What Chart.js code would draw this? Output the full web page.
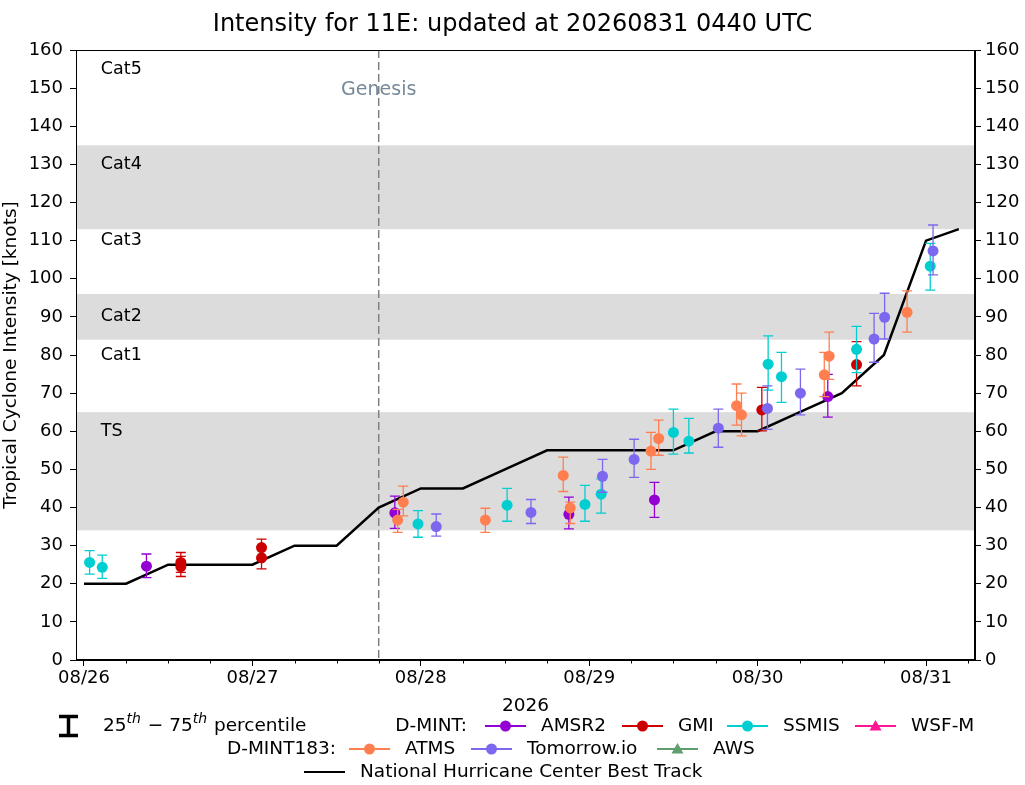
<!DOCTYPE html>
<html>
<head>
<meta charset="utf-8">
<script src="https://cdn.jsdelivr.net/npm/chart.js@4.4.0/dist/chart.umd.min.js"></script>
<style>
  body { margin: 0; background: #fff; }
  canvas { display: block; }
</style>
</head>
<body>
<canvas id="intensity" width="1025" height="785"></canvas>
<script>
// all times are hours after 08/26 00 UTC, intensities in knots
const dayTicks = [0, 24, 48, 72, 96, 120];
const dayLabels = ['08/26', '08/27', '08/28', '08/29', '08/30', '08/31'];
const yearLabel = '2026';
const genesisHour = 42;

// NHC best track
const bestHours = [0, 6, 12, 18, 24, 30, 36, 42, 48, 54, 60, 66, 72, 78, 84, 90, 96, 102, 108, 114, 120, 124.67];
const bestKt    = [20, 20, 25, 25, 25, 30, 30, 40, 45, 45, 50, 55, 55, 55, 55, 60, 60, 65, 70, 80, 110, 113];

// D-MINT
const amsr2Hours = [8.9, 44.3, 69.1, 81.3, 106.0];
const amsr2Kt    = [24.6, 38.6, 38.2, 42.0, 69.1];
const amsr2Lo    = [21.6, 34.5, 34.4, 37.4, 63.7];
const amsr2Hi    = [27.8, 43.0, 42.7, 46.6, 74.9];

const gmiHours = [13.8, 13.8, 25.3, 25.3, 96.6, 110.1];
const gmiKt    = [25.6, 24.5, 29.5, 26.8, 65.6, 77.5];
const gmiLo    = [23.0, 21.9, 26.5, 23.9, 60.1, 71.9];
const gmiHi    = [28.2, 27.2, 31.7, 29.5, 71.5, 83.5];

const ssmisHours = [0.8, 2.6, 47.6, 60.3, 71.4, 73.7, 84.0, 86.2, 97.5, 99.4, 110.1, 120.6];
const ssmisKt    = [25.6, 24.3, 35.7, 40.6, 40.8, 43.5, 59.7, 57.4, 77.6, 74.3, 81.5, 103.3];
const ssmisLo    = [22.5, 21.4, 32.2, 36.4, 36.4, 38.5, 54.0, 54.3, 70.8, 67.6, 75.4, 97.0];
const ssmisHi    = [28.7, 27.5, 39.2, 45.0, 45.8, 47.5, 65.8, 63.4, 85.0, 80.7, 87.5, 109.3];

const wsfmHours = [];
const wsfmKt    = [];

// D-MINT183
const atmsHours = [44.7, 45.5, 57.2, 68.3, 69.3, 80.8, 81.9, 93.0, 93.7, 105.5, 106.2, 117.3];
const atmsKt    = [36.7, 41.4, 36.7, 48.4, 39.9, 54.8, 58.1, 66.7, 64.3, 74.8, 79.7, 91.2];
const atmsLo    = [33.5, 37.8, 33.5, 44.2, 35.8, 50.0, 53.7, 61.6, 58.8, 69.1, 73.6, 86.0];
const atmsHi    = [39.5, 45.6, 39.8, 53.2, 41.4, 59.7, 62.9, 72.4, 70.0, 80.7, 86.0, 96.8];

const tmrwHours = [50.2, 63.7, 73.9, 78.4, 90.4, 97.4, 102.1, 112.6, 114.1, 121.0];
const tmrwKt    = [35.0, 38.7, 48.2, 52.6, 60.8, 66.0, 70.0, 84.2, 89.9, 107.3];
const tmrwLo    = [32.5, 35.8, 44.0, 47.9, 55.8, 60.5, 64.3, 78.1, 84.2, 101.0];
const tmrwHi    = [38.3, 42.1, 52.6, 57.9, 65.8, 71.9, 76.3, 90.9, 96.2, 114.1];

const awsHours = [];
const awsKt    = [];

// saffir-simpson shading and labels
const bandLo = [34, 84, 113];
const bandHi = [65, 96, 135];
const catNames = ['Cat5', 'Cat4', 'Cat3', 'Cat2', 'Cat1', 'TS'];
const catKt    = [155, 130, 110, 90, 80, 60];

const FONT = "'DejaVu Sans', sans-serif";
Chart.defaults.font.family = FONT;
Chart.defaults.color = '#000';

function pts(h, v) {
  return h.map((t, i) => ({x: t, y: v[i]}));
}

function sensor(label, h, v, lo, hi, color, order, style) {
  return {
    type: 'scatter',
    label: label,
    data: pts(h, v),
    lo: lo, hi: hi,
    backgroundColor: color,
    borderColor: color,
    pointRadius: 5.5,
    pointHoverRadius: 5.5,
    pointBorderWidth: 0,
    pointStyle: style || 'circle',
    order: order
  };
}

// error bars are drawn just before each dataset so markers sit on top
const errorBars = {
  id: 'errorBars',
  beforeDatasetDraw(chart, args) {
    const ds = chart.data.datasets[args.index];
    if (!ds.lo) return;
    const {ctx, scales: {x, y}} = chart;
    ctx.save();
    ctx.strokeStyle = ds.borderColor;
    ctx.lineWidth = 1.3;
    ds.data.forEach((p, i) => {
      const px = x.getPixelForValue(p.x);
      const y1 = y.getPixelForValue(ds.lo[i]);
      const y2 = y.getPixelForValue(ds.hi[i]);
      ctx.beginPath();
      ctx.moveTo(px, y1); ctx.lineTo(px, y2);
      ctx.moveTo(px - 5, y1); ctx.lineTo(px + 5, y1);
      ctx.moveTo(px - 5, y2); ctx.lineTo(px + 5, y2);
      ctx.stroke();
    });
    ctx.restore();
  }
};

const background = {
  id: 'background',
  beforeDatasetsDraw(chart) {
    const {ctx, chartArea: a, scales: {x, y}} = chart;
    ctx.save();
    ctx.fillStyle = '#dcdcdc';
    for (let i = 0; i < bandLo.length; i++) {
      const top = y.getPixelForValue(bandHi[i]);
      const bot = y.getPixelForValue(bandLo[i]);
      ctx.fillRect(a.left, top, a.right - a.left, bot - top);
    }
    ctx.fillStyle = '#000';
    ctx.font = '17.5px ' + FONT;
    ctx.textAlign = 'left';
    ctx.textBaseline = 'middle';
    catNames.forEach((c, i) => ctx.fillText(c, x.getPixelForValue(2.4), y.getPixelForValue(catKt[i])));

    // genesis
    const gx = x.getPixelForValue(genesisHour);
    ctx.strokeStyle = '#808080';
    ctx.lineWidth = 1.5;
    ctx.setLineDash([8, 4]);
    ctx.beginPath();
    ctx.moveTo(gx, a.top); ctx.lineTo(gx, a.bottom);
    ctx.stroke();
    ctx.setLineDash([]);
    ctx.fillStyle = '#778899';
    ctx.font = '19px ' + FONT;
    ctx.textAlign = 'center';
    ctx.fillText('Genesis', gx, y.getPixelForValue(149.5));
    ctx.restore();
  }
};

function legendLine(ctx, x1, x2, y, color, marker) {
  ctx.strokeStyle = color;
  ctx.fillStyle = color;
  ctx.lineWidth = 2;
  ctx.beginPath();
  ctx.moveTo(x1, y); ctx.lineTo(x2, y);
  ctx.stroke();
  const mx = (x1 + x2) / 2;
  if (marker === 'circle') {
    ctx.beginPath(); ctx.arc(mx, y, 5.5, 0, Math.PI * 2); ctx.fill();
  } else if (marker === 'triangle') {
    ctx.beginPath();
    ctx.moveTo(mx, y - 6); ctx.lineTo(mx + 6, y + 4.5); ctx.lineTo(mx - 6, y + 4.5);
    ctx.closePath(); ctx.fill();
  }
}

const frameAndLegend = {
  id: 'frameAndLegend',
  afterDraw(chart) {
    const {ctx, chartArea: a, scales: {x}} = chart;
    ctx.save();
    // frame round the plot (bands were painted over the axis lines)
    ctx.strokeStyle = '#000';
    ctx.lineWidth = 1;
    const l = Math.round(a.left) + 0.5, r = Math.round(a.right) - 0.5;
    const t = Math.round(a.top) + 0.5, b = Math.round(a.bottom) - 0.5;
    ctx.strokeRect(l, t, r - l, b - t);
    // minor ticks every 6 h
    ctx.beginPath();
    for (let h = 6; h < 127; h += 6) {
      if (h % 24 === 0) continue;
      const px = Math.round(x.getPixelForValue(h)) + 0.5;
      ctx.moveTo(px, a.bottom); ctx.lineTo(px, a.bottom + 3.5);
    }
    ctx.stroke();

    // legend
    const f = '18.5px ' + FONT;
    const r1 = 726, r2 = 749, r3 = 772;
    ctx.textBaseline = 'middle';

    // percentile icon
    ctx.lineWidth = 3.5;
    ctx.beginPath();
    ctx.moveTo(68.5, 716); ctx.lineTo(68.5, 736);
    ctx.moveTo(59, 716.5); ctx.lineTo(78, 716.5);
    ctx.moveTo(59, 735.5); ctx.lineTo(78, 735.5);
    ctx.stroke();

    ctx.fillStyle = '#000';
    ctx.textAlign = 'left';
    let cx = 103;
    const parts = [['25', false], ['th', true], [' \u2212 75', false], ['th', true], [' percentile', false]];
    parts.forEach(([txt, sup]) => {
      ctx.font = sup ? 'italic 14px ' + FONT : f;
      ctx.fillText(txt, cx, sup ? r1 - 7 : r1);
      cx += ctx.measureText(txt).width + (sup ? 1 : 0);
    });

    ctx.font = f;
    ctx.textAlign = 'right';
    ctx.fillText('D-MINT:', 467, r1);
    ctx.fillText('D-MINT183:', 336, r2);
    ctx.textAlign = 'left';

    const items = [
      [485, r1, '#9400d3', 'circle', 'AMSR2'],
      [622, r1, '#cc0000', 'circle', 'GMI'],
      [727, r1, '#00ced1', 'circle', 'SSMIS'],
      [855, r1, '#ff1493', 'triangle', 'WSF-M'],
      [349, r2, '#ff7f50', 'circle', 'ATMS'],
      [471, r2, '#7b68ee', 'circle', 'Tomorrow.io'],
      [657, r2, '#5f9e6e', 'triangle', 'AWS'],
      [304, r3, '#000', null, 'National Hurricane Center Best Track']
    ];
    items.forEach(([lx, ly, col, mk, txt]) => {
      legendLine(ctx, lx, lx + 41, ly, col, mk);
      ctx.fillStyle = '#000';
      ctx.font = f;
      ctx.fillText(txt, lx + 56, ly);
    });
    ctx.restore();
  }
};

const yTicks = {
  font: {size: 18},
  stepSize: 10,
  color: '#000'
};

new Chart('intensity', {
  type: 'scatter',
  data: {
    datasets: [
      sensor('AMSR2', amsr2Hours, amsr2Kt, amsr2Lo, amsr2Hi, '#9400d3', 7),
      sensor('GMI', gmiHours, gmiKt, gmiLo, gmiHi, '#cc0000', 6),
      sensor('SSMIS', ssmisHours, ssmisKt, ssmisLo, ssmisHi, '#00ced1', 5),
      sensor('WSF-M', wsfmHours, wsfmKt, [], [], '#ff1493', 4, 'triangle'),
      sensor('ATMS', atmsHours, atmsKt, atmsLo, atmsHi, '#ff7f50', 3),
      sensor('Tomorrow.io', tmrwHours, tmrwKt, tmrwLo, tmrwHi, '#7b68ee', 2),
      sensor('AWS', awsHours, awsKt, [], [], '#5f9e6e', 1, 'triangle'),
      {
        type: 'line',
        label: 'National Hurricane Center Best Track',
        data: pts(bestHours, bestKt),
        borderColor: '#000',
        borderWidth: 2.5,
        pointRadius: 0,
        tension: 0,
        fill: false,
        order: 10
      }
    ]
  },
  plugins: [background, errorBars, frameAndLegend],
  options: {
    responsive: false,
    animation: false,
    events: [],
    layout: {padding: 0},
    scales: {
      x: {
        type: 'linear',
        min: -1.14,
        max: 126.98,
        afterFit: s => { s.height = 125; },
        afterBuildTicks: s => { s.ticks = dayTicks.map(v => ({value: v})); },
        ticks: {
          font: {size: 18},
          padding: 2,
          maxRotation: 0,
          autoSkip: false,
          callback: v => dayLabels[dayTicks.indexOf(v)]
        },
        grid: {drawOnChartArea: false, tickLength: 6, color: '#000'},
        border: {color: '#000'},
        title: {display: true, text: yearLabel, font: {size: 18.5}, padding: {top: 4, bottom: 68}}
      },
      y: {
        position: 'left',
        min: 0, max: 160,
        afterFit: s => { s.width = 76; },
        ticks: Object.assign({padding: 7}, yTicks),
        grid: {drawOnChartArea: false, tickLength: 6, color: '#000'},
        border: {color: '#000'},
        title: {display: true, text: 'Tropical Cyclone Intensity [knots]', font: {size: 18.5}, padding: {top: 0, bottom: 0}}
      },
      y2: {
        position: 'right',
        min: 0, max: 160,
        afterFit: s => { s.width = 50; },
        ticks: Object.assign({padding: 4}, yTicks),
        grid: {drawOnChartArea: false, tickLength: 6, color: '#000'},
        border: {color: '#000'}
      }
    },
    plugins: {
      legend: {display: false},
      tooltip: {enabled: false},
      title: {
        display: true,
        text: 'Intensity for 11E: updated at 20260831 0440 UTC',
        font: {size: 24, weight: 'normal'},
        color: '#000',
        padding: {top: 10, bottom: 11.2}
      }
    }
  }
});
</script>
</body>
</html>
